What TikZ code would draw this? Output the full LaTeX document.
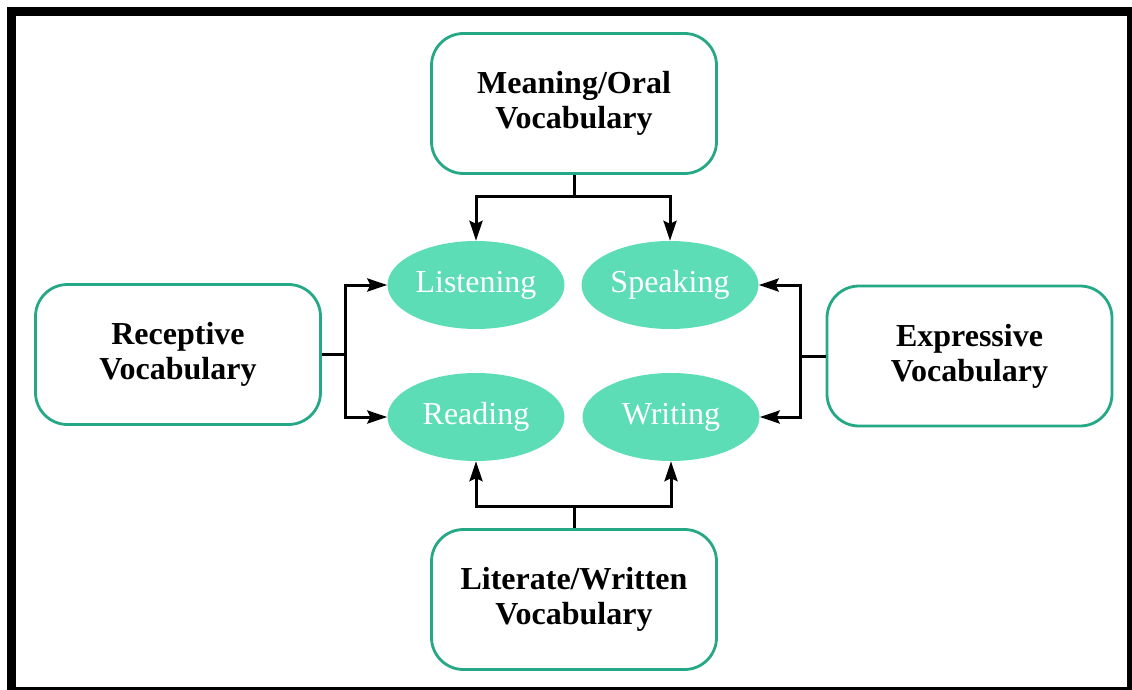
\documentclass[tikz,border=0pt]{standalone}
\usepackage{fontspec}
\setmainfont{Liberation Serif}
\usetikzlibrary{arrows.meta,shapes.geometric}
\definecolor{tealline}{RGB}{36,168,134}
\definecolor{mintfill}{RGB}{92,221,181}
\begin{document}
\begin{tikzpicture}[x=1pt,y=-1pt,
  vocbox/.style={draw=tealline, line width=2.8pt, rounded corners=32pt, fill=white,
    minimum width=285pt, minimum height=140pt, align=center,
    font=\fontsize{32}{35}\selectfont\bfseries, text=black},
  skill/.style={ellipse, fill=mintfill, minimum width=177pt, minimum height=88pt,
    inner sep=0pt, font=\fontsize{32}{34}\selectfont, text=white},
  conn/.style={line width=3pt, black},
  arr/.style={conn, -{Stealth[length=20pt,width=13pt,inset=3pt]}}
]
\useasboundingbox (0,0) rectangle (1132,690);
\begin{scope}
\clip (0,0) rectangle (1132,690);
\draw[line width=9pt, black] (11.5,12) rectangle (1131.5,691.5);
\end{scope}

\node[vocbox] (mo) at (574,103.5) {Meaning/Oral\\Vocabulary};
\node[vocbox] (rv) at (178,354.5) {Receptive\\Vocabulary};
\node[vocbox] (ev) at (969.5,356) {Expressive\\Vocabulary};
\node[vocbox] (lw) at (574,599.5) {Literate/Written\\Vocabulary};

\node[skill] (listen) at (476,285) {Listening};
\node[skill] (speak) at (670,285) {Speaking};
\node[skill] (read) at (476,417) {Reading};
\node[skill] (write) at (671,417) {Writing};

\draw[conn] (mo.south) -- ++(0,22) coordinate (mt);
\draw[arr] (mt) -| (listen.north);
\draw[arr] (mt) -| (speak.north);

\draw[conn] (lw.north) -- ++(0,-22) coordinate (lb);
\draw[arr] (lb) -| (read.south);
\draw[arr] (lb) -| (write.south);

\draw[conn] (rv.east) -- ++(24,0) coordinate (rl);
\draw[arr] (rl) |- (listen.west);
\draw[arr] (rl) |- (read.west);

\draw[conn] (ev.west) -- ++(-25,0) coordinate (er);
\draw[arr] (er) |- (speak.east);
\draw[arr] (er) |- (write.east);
\end{tikzpicture}
\end{document}
